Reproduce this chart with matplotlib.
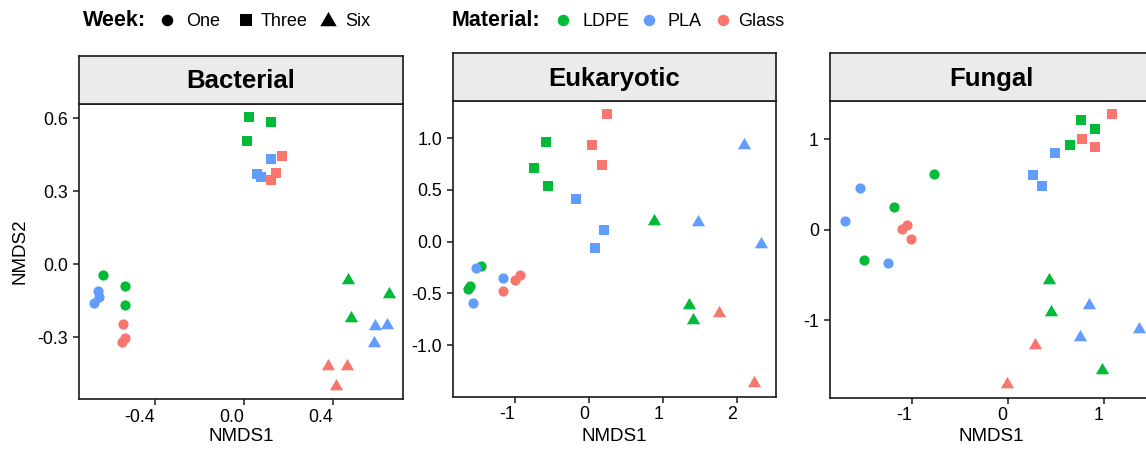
import matplotlib
matplotlib.use("Agg")
import matplotlib.pyplot as plt
from matplotlib.lines import Line2D
import numpy as np

plt.rcParams["font.family"] = ["Liberation Sans", "DejaVu Sans"]

# ---- data -------------------------------------------------------------
materials = ["LDPE", "PLA", "Glass"]
weeks = ["One", "Three", "Six"]
material_colors = ["#00BA38", "#619CFF", "#F8766D"]

# Bacterial NMDS scores
bact_week = ["One"] * 9 + ["Three"] * 9 + ["Six"] * 9
bact_mat = (["LDPE"] * 3 + ["PLA"] * 3 + ["Glass"] * 3) * 3
bact_x = [-0.635, -0.535, -0.535, -0.657, -0.651, -0.672, -0.545, -0.535, -0.550,
          0.023, 0.119, 0.014, 0.122, 0.056, 0.074, 0.170, 0.144, 0.119,
          0.466, 0.648, 0.479, 0.587, 0.639, 0.584, 0.377, 0.460, 0.412]
bact_y = [-0.044, -0.089, -0.167, -0.108, -0.136, -0.158, -0.247, -0.302, -0.318,
          0.607, 0.585, 0.505, 0.433, 0.372, 0.360, 0.446, 0.375, 0.348,
          -0.066, -0.121, -0.221, -0.255, -0.250, -0.325, -0.420, -0.417, -0.502]

# Eukaryotic NMDS scores
euk_week = ["One"] * 9 + ["Three"] * 9 + ["Six"] * 8
euk_mat = (["LDPE"] * 3 + ["PLA"] * 3 + ["Glass"] * 3) * 2 + \
          ["LDPE"] * 3 + ["PLA"] * 3 + ["Glass"] * 2
euk_x = [-1.456, -1.604, -1.635, -1.523, -1.155, -1.568, -1.155, -0.997, -0.930,
         -0.580, -0.741, -0.557, -0.180, 0.202, 0.076, 0.247, 0.045, 0.175,
         0.876, 1.343, 1.397, 2.089, 1.469, 2.318, 1.748, 2.228]
euk_y = [-0.238, -0.425, -0.460, -0.251, -0.351, -0.592, -0.476, -0.367, -0.322,
         0.960, 0.709, 0.541, 0.415, 0.116, -0.058, 1.231, 0.937, 0.741,
         0.195, -0.610, -0.760, 0.935, 0.190, -0.020, -0.694, -1.368]

# Fungal NMDS scores
fung_week = ["One"] * 9 + ["Three"] * 9 + ["Six"] * 8
fung_mat = (["LDPE"] * 3 + ["PLA"] * 3 + ["Glass"] * 3) * 2 + \
           ["LDPE"] * 3 + ["PLA"] * 3 + ["Glass"] * 2
fung_x = [-0.769, -1.185, -1.495, -1.540, -1.690, -1.245, -1.102, -1.044, -1.002,
          0.769, 0.908, 0.654, 0.498, 0.266, 0.356, 1.089, 0.779, 0.911,
          0.429, 0.456, 0.984, 0.852, 0.755, 1.373, 0.286, -0.005]
fung_y = [0.620, 0.248, -0.336, 0.462, 0.100, -0.372, 0.004, 0.049, -0.100,
          1.215, 1.115, 0.938, 0.849, 0.602, 0.487, 1.281, 1.004, 0.919,
          -0.561, -0.909, -1.551, -0.831, -1.186, -1.097, -1.281, -1.713]

panel_titles = ["Bacterial", "Eukaryotic", "Fungal"]
bact_xticks = [-0.4, 0.0, 0.4]
bact_xticklabels = ["-0.4", "0.0", "0.4"]
bact_yticks = [-0.3, 0.0, 0.3, 0.6]
bact_yticklabels = ["-0.3", "0.0", "0.3", "0.6"]
euk_xticks = [-1, 0, 1, 2]
euk_xticklabels = ["-1", "0", "1", "2"]
euk_yticks = [-1.0, -0.5, 0.0, 0.5, 1.0]
euk_yticklabels = ["-1.0", "-0.5", "0.0", "0.5", "1.0"]
fung_xticks = [-1, 0, 1]
fung_xticklabels = ["-1", "0", "1"]
fung_yticks = [-1, 0, 1]
fung_yticklabels = ["-1", "0", "1"]

# ---- styling ----------------------------------------------------------
W, H = 1146, 457
fig = plt.figure(figsize=(W / 100, H / 100), dpi=100)
fig.patch.set_facecolor("white")

# equilateral triangle centred on its centroid (like R's pch 17)
tri = [(-0.866, -0.5), (0.866, -0.5), (0.0, 1.0), (-0.866, -0.5)]
week_markers = {"One": "o", "Three": "s", "Six": tri}
week_sizes = {"One": 54, "Three": 56, "Six": 120}
mat_color = dict(zip(materials, material_colors))


def px_axes(l, t, r, b):
    return fig.add_axes([l / W, 1 - b / H, (r - l) / W, (b - t) / H])


def draw_panel(box, strip_top, title, xs, ys, wk, mt, xlim, ylim,
               xticks, xlabels, yticks, ylabels, ylabel=None):
    l, t, r, b = box
    ax = px_axes(l, t, r, b)
    strip = px_axes(l, strip_top, r, t)
    strip.set_facecolor("#EBEBEB")
    strip.set_xticks([])
    strip.set_yticks([])
    for sp in strip.spines.values():
        sp.set_linewidth(1.2)
        sp.set_color("#1a1a1a")
    strip.text(0.5, 0.47, title, ha="center", va="center",
               fontsize=18.5, fontweight="bold", transform=strip.transAxes)

    xs = np.asarray(xs)
    ys = np.asarray(ys)
    wk = np.asarray(wk)
    mt = np.asarray(mt)
    for w in weeks:
        for m in materials:
            sel = (wk == w) & (mt == m)
            if sel.any():
                ax.scatter(xs[sel], ys[sel], marker=week_markers[w],
                           s=week_sizes[w], color=mat_color[m],
                           linewidths=0, zorder=3)

    ax.set_xlim(*xlim)
    ax.set_ylim(*ylim)
    ax.set_xticks(xticks)
    ax.set_xticklabels(xlabels, ha="right")
    ax.set_yticks(yticks)
    ax.set_yticklabels(ylabels)
    ax.tick_params(direction="out", length=4, width=1.1, color="#1a1a1a",
                   labelsize=12.8, labelcolor="black", pad=3)
    ax.tick_params(axis="y", pad=4)
    for sp in ax.spines.values():
        sp.set_linewidth(1.2)
        sp.set_color("#1a1a1a")

    ax.set_xlabel("NMDS1", fontsize=13.5)
    ax.xaxis.set_label_coords(0.5, (b - 436.5) / (b - t))
    ax.xaxis.label.set_verticalalignment("center")
    if ylabel:
        ax.set_ylabel(ylabel, fontsize=13.5)
        ax.yaxis.set_label_coords((20 - l) / (r - l), 0.5)
        ax.yaxis.label.set_verticalalignment("center")
    return ax


draw_panel((79, 104, 403, 399), 56, panel_titles[0], bact_x, bact_y,
           bact_week, bact_mat, (-0.741, 0.712), (-0.554, 0.659),
           bact_xticks, bact_xticklabels, bact_yticks, bact_yticklabels,
           ylabel="NMDS2")
draw_panel((453.3, 101, 775.7, 396.7), 53.3, panel_titles[1], euk_x, euk_y,
           euk_week, euk_mat, (-1.829, 2.516), (-1.498, 1.359),
           euk_xticks, euk_xticklabels, euk_yticks, euk_yticklabels)
draw_panel((830, 101, 1152, 397.7), 53.3, panel_titles[2], fung_x, fung_y,
           fung_week, fung_mat, (-1.849, 1.505), (-1.860, 1.425),
           fung_xticks, fung_xticklabels, fung_yticks, fung_yticklabels)

# ---- legends along the top ---------------------------------------------
leg = fig.add_axes([0, 0, 1, 1], facecolor="none")
leg.set_xlim(0, W)
leg.set_ylim(H, 0)
leg.axis("off")

base = 26.5
mid = 20.3
leg.text(82.5, base, "Week:", fontsize=15.5, fontweight="bold", va="baseline")
week_legend_pos = [(166.7, 186.0), (245.7, 261.0), (328.3, 345.0)]
week_legend_px = {"One": 11.5, "Three": 12.0, "Six": 19.0}
for w, (mx, tx) in zip(weeks, week_legend_pos):
    leg.add_line(Line2D([mx], [mid + (1.0 if w == "Six" else 0.0)],
                        marker=week_markers[w], color="black",
                        markersize=week_legend_px[w] * 0.72,
                        linestyle="none", markeredgewidth=0))
    leg.text(tx, base, w, fontsize=13, va="baseline")

leg.text(451.5, base, "Material:", fontsize=15.5, fontweight="bold", va="baseline")
mat_legend_pos = [(563.3, 582.0), (649.3, 667.5), (722.7, 738.5)]
for m, c, (mx, tx) in zip(materials, material_colors, mat_legend_pos):
    leg.add_line(Line2D([mx], [mid], marker="o", color=c, markersize=11.5 * 0.72,
                        linestyle="none", markeredgewidth=0))
    leg.text(tx, base, m, fontsize=13, va="baseline")

fig.savefig("out.png", dpi=100)
